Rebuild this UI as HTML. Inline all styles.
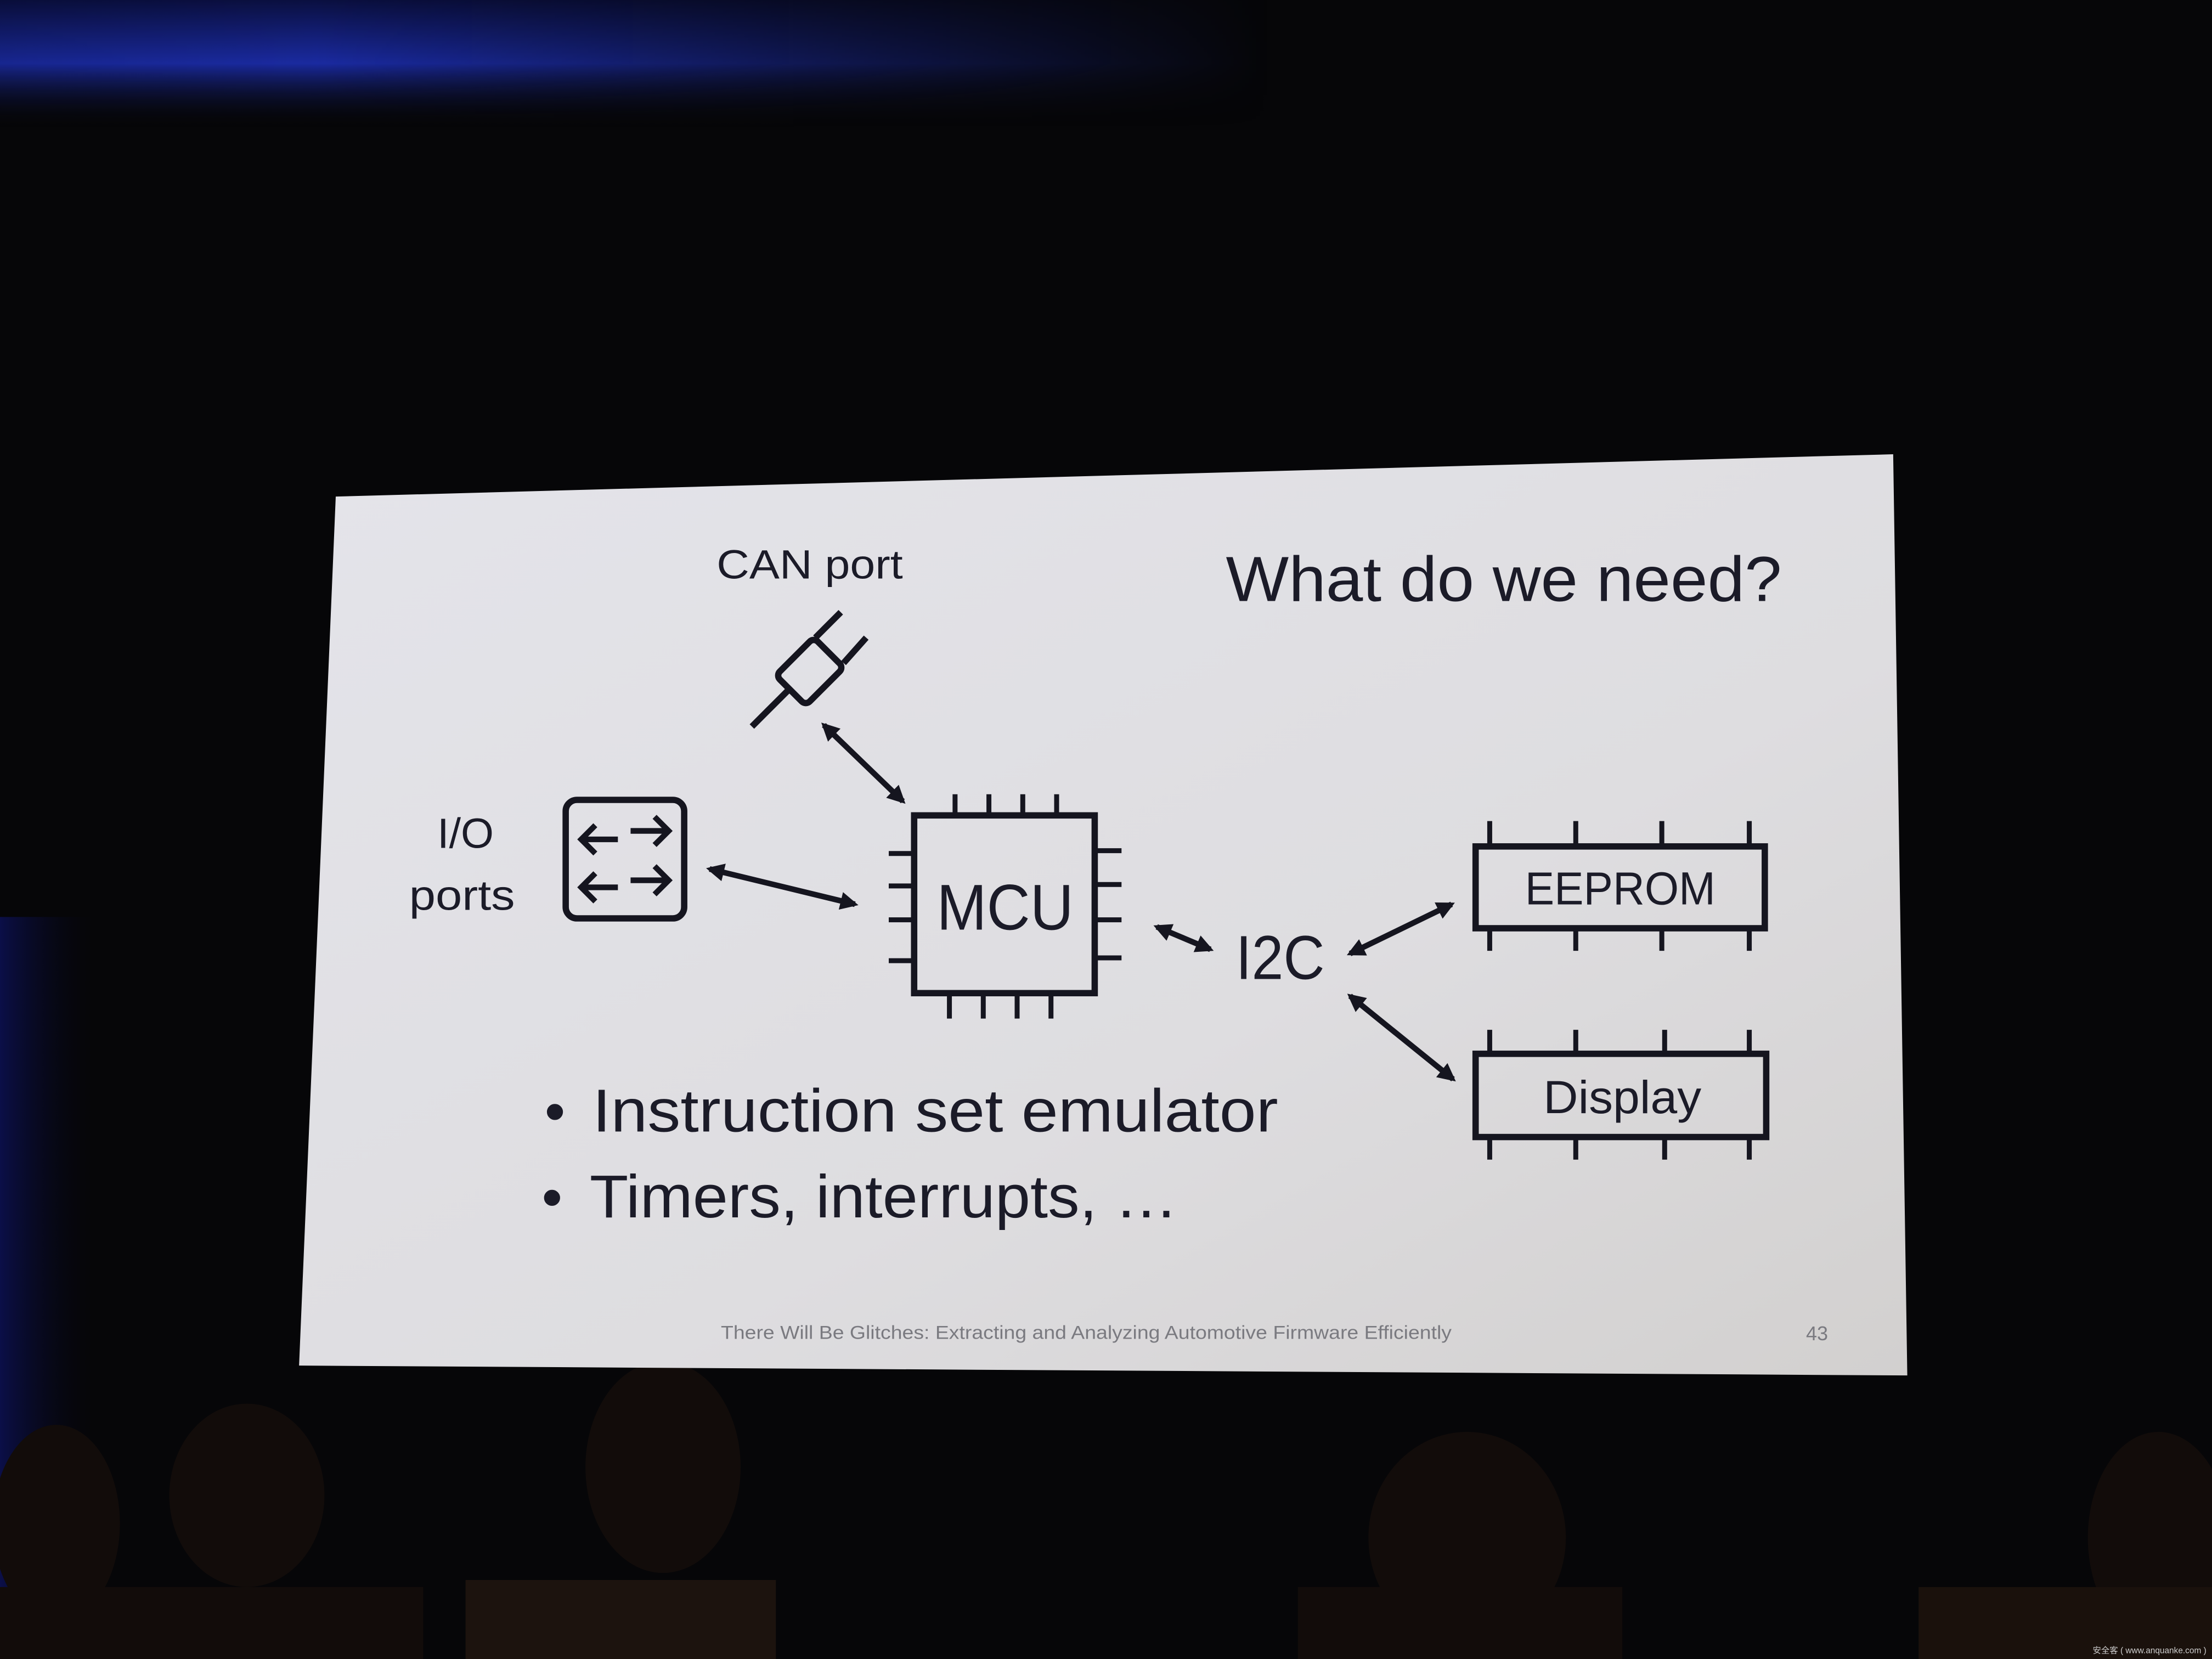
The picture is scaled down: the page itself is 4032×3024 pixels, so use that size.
<!DOCTYPE html>
<html><head><meta charset="utf-8"><style>
html,body{margin:0;padding:0;background:#050508;}
svg{display:block;}
text{font-family:"Liberation Sans","DejaVu Sans",sans-serif;fill:#1b1b28;}
</style></head><body>
<svg width="4032" height="3024" viewBox="0 0 1568 1176" xmlns="http://www.w3.org/2000/svg">
<defs>
<linearGradient id="sl" x1="0" y1="0" x2="1" y2="1">
<stop offset="0" stop-color="#e4e4ea"/><stop offset="0.6" stop-color="#dedde0"/><stop offset="1" stop-color="#d2d0cf"/>
</linearGradient>
<linearGradient id="tb" x1="0" y1="0" x2="0" y2="1">
<stop offset="0" stop-color="#0a0f40"/><stop offset="0.5" stop-color="#1a2aa0"/><stop offset="1" stop-color="#06060c" stop-opacity="0"/>
</linearGradient>
<linearGradient id="tbh" x1="0" y1="0" x2="1" y2="0">
<stop offset="0" stop-color="#fff" stop-opacity="0.9"/><stop offset="0.25" stop-color="#fff" stop-opacity="1"/><stop offset="1" stop-color="#fff" stop-opacity="0"/>
</linearGradient>
<mask id="tm"><rect x="0" y="0" width="900" height="90" fill="url(#tbh)"/></mask>
<linearGradient id="lb" x1="0" y1="0" x2="1" y2="0">
<stop offset="0" stop-color="#0b0f48"/><stop offset="1" stop-color="#05050a" stop-opacity="0"/>
</linearGradient>
<marker id="ah" viewBox="0 0 10 10" refX="8" refY="5" markerWidth="3.2" markerHeight="3.2" orient="auto-start-reverse">
<path d="M0,0 L10,5 L0,10 z" fill="#15151f"/></marker>
</defs>
<rect width="1568" height="1176" fill="#060608"/>
<rect x="0" y="0" width="900" height="90" fill="url(#tb)" mask="url(#tm)"/>
<rect x="0" y="650" width="70" height="500" fill="url(#lb)"/>
<!-- audience -->
<g fill="#120c0a">
<ellipse cx="470" cy="1040" rx="55" ry="75"/>
<ellipse cx="175" cy="1060" rx="55" ry="65"/>
<ellipse cx="40" cy="1080" rx="45" ry="70"/>
<ellipse cx="1040" cy="1090" rx="70" ry="75"/>
<ellipse cx="1530" cy="1090" rx="50" ry="75"/>
<rect x="330" y="1120" width="220" height="56" fill="#1c130e"/>
<rect x="0" y="1125" width="300" height="51"/>
<rect x="920" y="1125" width="230" height="51"/>
<rect x="1360" y="1125" width="208" height="51" fill="#1a110c"/>
</g>
<!-- slide -->
<polygon points="238,352 1342,322 1352,975 212,968" fill="url(#sl)"/>
<g stroke="#15151f" fill="none" stroke-width="4.5">
<line x1="533" y1="515" x2="560" y2="488"/>
<rect x="559" y="457" width="30" height="38" rx="4" transform="rotate(45 574 476)"/>
<line x1="578" y1="452" x2="596" y2="434"/>
<line x1="598" y1="470" x2="614" y2="452"/>
<rect x="401" y="567" width="84" height="84" rx="8"/>
<g stroke-width="4"><path d="M412,595 H438 M422,585 L412,595 L422,605"/>
<path d="M447,589 H473 M464,579 L474,589 L464,599"/>
<path d="M412,629 H438 M422,619 L412,629 L422,639"/>
<path d="M447,624 H473 M464,614 L474,624 L464,634"/></g>
<rect x="648" y="578" width="128" height="126"/>
<g stroke-width="3.5">
<path d="M677,563V578M701,563V578M725,563V578M749,563V578"/>
<path d="M673,704V722M697,704V722M721,704V722M745,704V722"/>
<path d="M630,605H648M630,628H648M630,652H648M630,681H648"/>
<path d="M776,603H795M776,627H795M776,652H795M776,679H795"/>
</g>
<rect x="1046" y="600" width="205" height="58"/>
<g stroke-width="3.5"><path d="M1056,582V600M1117,582V600M1178,582V600M1240,582V600M1056,658V674M1117,658V674M1178,658V674M1240,658V674"/></g>
<rect x="1046" y="747" width="206" height="59"/>
<g stroke-width="3.5"><path d="M1056,730V747M1117,730V747M1180,730V747M1240,730V747M1056,806V822M1117,806V822M1180,806V822M1240,806V822"/></g>
<g stroke-width="4" marker-start="url(#ah)" marker-end="url(#ah)">
<line x1="584" y1="514" x2="640" y2="568"/>
<line x1="503" y1="616" x2="606" y2="641"/>
<line x1="820" y1="657" x2="858" y2="673"/>
<line x1="957" y1="676" x2="1029" y2="641"/>
<line x1="957" y1="706" x2="1030" y2="765"/>
</g>
</g>
<text x="508" y="410" font-size="29" textLength="132" lengthAdjust="spacingAndGlyphs">CAN port</text>
<text x="330" y="601" font-size="30" text-anchor="middle">I/O</text>
<text x="290" y="645" font-size="30" textLength="75" lengthAdjust="spacingAndGlyphs">ports</text>
<text x="664" y="659" font-size="46" textLength="97" lengthAdjust="spacingAndGlyphs">MCU</text>
<text x="876" y="694" font-size="44" textLength="63" lengthAdjust="spacingAndGlyphs">I2C</text>
<text x="1081" y="641" font-size="33" textLength="135" lengthAdjust="spacingAndGlyphs">EEPROM</text>
<text x="1094" y="789" font-size="33" textLength="112" lengthAdjust="spacingAndGlyphs">Display</text>
<text x="869" y="426" font-size="45" textLength="394" lengthAdjust="spacingAndGlyphs">What do we need?</text>
<text x="386" y="802" font-size="42">•</text>
<text x="420" y="802" font-size="43" textLength="486" lengthAdjust="spacingAndGlyphs">Instruction set emulator</text>
<text x="384" y="863" font-size="42">•</text>
<text x="418" y="863" font-size="43" textLength="417" lengthAdjust="spacingAndGlyphs">Timers, interrupts, …</text>
<text x="511" y="949" font-size="13.5" textLength="518" lengthAdjust="spacingAndGlyphs" style="fill:#7a7a80">There Will Be Glitches: Extracting and Analyzing Automotive Firmware Efficiently</text>
<text x="1288" y="950" font-size="14" text-anchor="middle" style="fill:#7a7a80">43</text>
<text x="1564" y="1172" font-size="6" text-anchor="end" style="fill:#cccccc">安全客 ( www.anquanke.com )</text>
</svg>
</body></html>
